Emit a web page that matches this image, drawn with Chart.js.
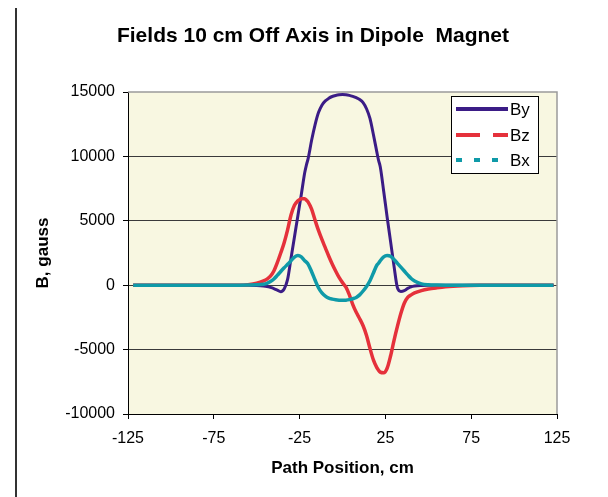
<!DOCTYPE html>
<html lang="en">
<head>
    <meta charset="UTF-8">
    <title>Fields 10 cm Off Axis in Dipole Magnet</title>
    <script src="https://cdn.jsdelivr.net/npm/chart.js"></script>
    <style>
        body { margin: 0; background: #fff; }
        #wrap { position: relative; width: 608px; height: 497px; }
        #bar { position: absolute; left: 15px; top: 8px; width: 2px; height: 489px; background: #333; }
        canvas { position: absolute; left: 0; top: 0; }
    </style>
</head>
<body>
<div id="wrap">
    <div id="bar"></div>
    <canvas id="grafico" width="608" height="497"></canvas>
</div>
<script>
    // path position, cm
    const positions = [-122, -100, -80, -60, -55, -50, -46, -44, -42, -40, -38, -36, -34, -32, -30, -28, -26, -24, -22, -21,
        -20, -18, -16, -14, -12, -10, -8, -6, -4, -2, 0, 2, 4, 6, 8, 10, 12, 14, 16, 18,
        20, 21, 22, 24, 26, 28, 30, 32, 34, 36, 38, 40, 42, 46, 50, 55, 60, 70, 80, 100, 123];

    // fields, gauss
    const by = [0, 0, 0, 0, 0, -20, -60, -100, -170, -260, -380, -500, -300, 450, 2100, 3750, 5400, 7050, 8750, 9350,
        9850, 11250, 12450, 13400, 13980, 14310, 14510, 14650, 14730, 14780, 14800, 14790, 14740, 14660, 14560, 14420, 14180, 13700, 12950, 11700,
        10350, 9700, 9200, 7300, 5300, 3400, 1500, -200, -480, -420, -250, -130, -70, -20, 0, 0, 0, 0, 0, 0, 0];
    const bz = [0, 0, 0, 0, 40, 150, 330, 470, 700, 1100, 1750, 2500, 3300, 4300, 5450, 6200, 6550, 6720, 6720, 6600,
        6450, 5900, 5050, 4250, 3550, 2900, 2250, 1650, 1100, 600, 200, -150, -750, -1500, -2100, -2600, -3150, -3900, -4900, -5800,
        -6400, -6600, -6750, -6800, -6450, -5500, -4300, -3200, -2200, -1400, -950, -750, -600, -420, -300, -200, -120, -40, -10, 0, 0];
    const bx = [0, 0, 0, 0, 10, 30, 80, 150, 280, 480, 760, 1060, 1350, 1620, 1900, 2180, 2300, 2200, 1900, 1780,
        1620, 1050, 400, -200, -600, -850, -1000, -1080, -1130, -1160, -1170, -1160, -1120, -1050, -950, -750, -450, -100, 350, 950,
        1550, 1700, 1900, 2200, 2300, 2250, 2000, 1700, 1400, 1100, 800, 520, 320, 100, 30, 10, 0, 0, 0, 0, 0];

    const seriesNames = ["By", "Bz", "Bx"];
    const seriesColors = ["#3b1c86", "#e5313b", "#0f9aa8"];
    const legendDash = [[], [24, 13], [6, 12]];

    const xTicks = [-125, -75, -25, 25, 75, 125];
    const yTicks = [-10000, -5000, 0, 5000, 10000, 15000];

    function puntos(valores) {
        return positions.map((p, i) => ({ x: p, y: valores[i] }));
    }

    // fondo, borde y leyenda propios
    const decorado = {
        id: "decorado",
        beforeDraw(chart) {
            const { ctx, chartArea: a } = chart;
            ctx.save();
            ctx.fillStyle = "#f8f7e1";
            ctx.fillRect(a.left, a.top, a.right - a.left, a.bottom - a.top);
            ctx.restore();
        },
        afterDraw(chart) {
            const { ctx, chartArea: a } = chart;
            ctx.save();
            // borde superior y derecho
            ctx.strokeStyle = "#9a9a9a";
            ctx.lineWidth = 1.5;
            ctx.beginPath();
            ctx.moveTo(a.left, a.top);
            ctx.lineTo(a.right, a.top);
            ctx.lineTo(a.right, a.bottom);
            ctx.stroke();

            // titulo
            ctx.fillStyle = "#000";
            ctx.font = "bold 21px 'Liberation Sans', Arial, sans-serif";
            ctx.textAlign = "center";
            ctx.textBaseline = "middle";
            ctx.fillText("Fields 10 cm Off Axis in Dipole  Magnet", 313, 36);

            // leyenda
            ctx.fillStyle = "#fff";
            ctx.fillRect(451.5, 96.5, 87, 77);
            ctx.strokeStyle = "#000";
            ctx.lineWidth = 1;
            ctx.strokeRect(451.5, 96.5, 87, 77);
            const ys = [109, 135, 160];
            seriesNames.forEach((n, i) => {
                ctx.strokeStyle = seriesColors[i];
                ctx.lineWidth = 4;
                ctx.setLineDash(legendDash[i]);
                ctx.beginPath();
                ctx.moveTo(456, ys[i]);
                ctx.lineTo(508, ys[i]);
                ctx.stroke();
                ctx.setLineDash([]);
                ctx.fillStyle = "#000";
                ctx.font = "17px 'Liberation Sans', Arial, sans-serif";
                ctx.textAlign = "left";
                ctx.fillText(n, 510, ys[i] + 1);
            });
            ctx.restore();
        }
    };

    new Chart(document.getElementById("grafico").getContext("2d"), {
        type: "line",
        data: {
            datasets: [
                { label: seriesNames[2], data: puntos(bx), borderColor: seriesColors[2], borderWidth: 3.5 },
                { label: seriesNames[1], data: puntos(bz), borderColor: seriesColors[1], borderWidth: 3.5 },
                { label: seriesNames[0], data: puntos(by), borderColor: seriesColors[0], borderWidth: 3 }
            ]
        },
        options: {
            responsive: false,
            animation: false,
            layout: { padding: { top: 92, right: 51, bottom: 0, left: 0 } },
            elements: {
                point: { radius: 0 },
                line: { tension: 0.4, cubicInterpolationMode: "monotone", fill: false }
            },
            plugins: {
                legend: { display: false },
                title: { display: false },
                tooltip: { enabled: false }
            },
            scales: {
                x: {
                    type: "linear",
                    min: xTicks[0],
                    max: xTicks[xTicks.length - 1],
                    afterBuildTicks: s => { s.ticks = xTicks.map(v => ({ value: v })); },
                    afterFit: s => { s.height = 83; },
                    grid: { drawOnChartArea: false, tickLength: 5, color: "#000" },
                    border: { color: "#000", width: 1 },
                    ticks: {
                        color: "#000",
                        padding: 10,
                        font: { family: "'Liberation Sans', Arial, sans-serif", size: 16 }
                    },
                    title: {
                        display: true,
                        text: "Path Position, cm",
                        color: "#000",
                        padding: { top: 0, bottom: 18 },
                        font: { family: "'Liberation Sans', Arial, sans-serif", size: 17, weight: "bold" }
                    }
                },
                y: {
                    min: yTicks[0],
                    max: yTicks[yTicks.length - 1],
                    afterBuildTicks: s => { s.ticks = yTicks.map(v => ({ value: v })); },
                    afterFit: s => { s.width = 128; },
                    grid: {
                        tickLength: 5,
                        tickColor: "#000",
                        color: c => (c.tick && c.tick.value === 15000) ? "rgba(0,0,0,0)" : "#3a3a3a",
                        lineWidth: 1
                    },
                    border: { color: "#000", width: 1 },
                    ticks: {
                        color: "#000",
                        padding: 8,
                        font: { family: "'Liberation Sans', Arial, sans-serif", size: 16 },
                        callback: v => String(v)
                    },
                    title: {
                        display: true,
                        text: "B, gauss",
                        color: "#000",
                        padding: { top: 33, bottom: 0 },
                        font: { family: "'Liberation Sans', Arial, sans-serif", size: 17, weight: "bold" }
                    }
                }
            }
        },
        plugins: [decorado]
    });
</script>
</body>
</html>
